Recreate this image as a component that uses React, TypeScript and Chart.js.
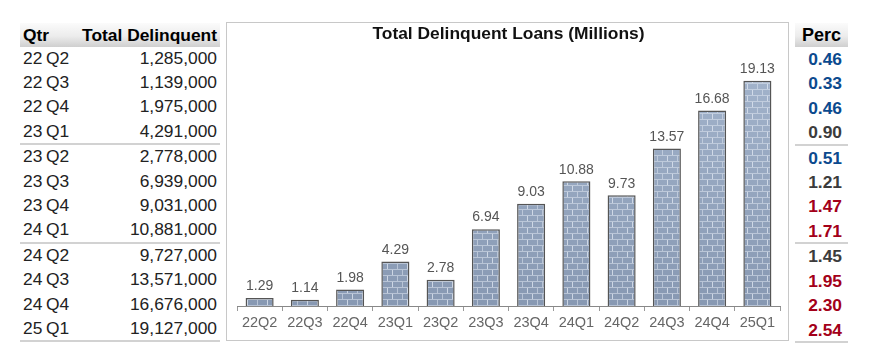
import React, { useEffect, useRef } from "react";
import { Chart, registerables } from "chart.js";

Chart.register(...registerables);

const FONT = "'Liberation Sans', Arial, Helvetica, sans-serif";

const quarters = ["22Q2", "22Q3", "22Q4", "23Q1", "23Q2", "23Q3", "23Q4", "24Q1", "24Q2", "24Q3", "24Q4", "25Q1"];
const totalDelinquent = [1285000, 1139000, 1975000, 4291000, 2778000, 6939000, 9031000, 10881000, 9727000, 13571000, 16676000, 19127000];
const loansMillions = [1.29, 1.14, 1.98, 4.29, 2.78, 6.94, 9.03, 10.88, 9.73, 13.57, 16.68, 19.13];
const percValues = ["0.46", "0.33", "0.46", "0.90", "0.51", "1.21", "1.47", "1.71", "1.45", "1.95", "2.30", "2.54"];
const percTones = ["blue", "blue", "blue", "gray", "blue", "gray", "red", "red", "gray", "red", "red", "red"];

const TONE_COLORS: Record<string, string> = { blue: "#0b4a8e", gray: "#3c3c3c", red: "#a30019" };

const ROW_H = 24.4;
const rowCenter = (i: number) => 57.7 + Math.floor(i / 4) * 98.65 + (i % 4) * ROW_H;
const sepLines = [143.3, 241.7, 340];

function makeBrickPattern(height: number): CanvasPattern | string {
  const c = document.createElement("canvas");
  const w = 20;
  c.width = w;
  c.height = height;
  const ctx = c.getContext("2d");
  if (!ctx) return "#9aabc3";
  const g = ctx.createLinearGradient(0, 40, 0, height - 30);
  g.addColorStop(0, "#a3b4cc");
  g.addColorStop(1, "#8798b2");
  ctx.fillStyle = g;
  ctx.fillRect(0, 0, w, height);
  ctx.fillStyle = "rgba(222,230,240,0.55)";
  const rowH = 6;
  for (let r = 0; r * rowH < height; r++) {
    const y = r * rowH;
    ctx.fillRect(0, y, w, 1);
    const off = r % 2 === 0 ? 0 : 5;
    for (let x = off; x < w + 10; x += 10) {
      ctx.fillRect(x % w, y + 1, 1, rowH - 1);
    }
  }
  const p = ctx.createPattern(c, "repeat");
  return p || "#9aabc3";
}

const valueLabels = {
  id: "valueLabels",
  afterDatasetsDraw(chart: any) {
    const ctx = chart.ctx;
    const meta = chart.getDatasetMeta(0);
    ctx.save();
    ctx.font = `14px ${FONT}`;
    ctx.fillStyle = "#555";
    ctx.textAlign = "center";
    ctx.textBaseline = "alphabetic";
    meta.data.forEach((bar: any, i: number) => {
      ctx.fillText(loansMillions[i].toFixed(2), bar.x, bar.y - 7.7);
    });
    ctx.restore();
  },
};

const headerBg = "linear-gradient(to bottom, #fbfbfb 0%, #ececec 55%, #cfcfcf 100%)";

export default function App() {
  const ref = useRef<HTMLCanvasElement>(null);

  useEffect(() => {
    const canvas = ref.current;
    if (!canvas) return;
    const pattern = makeBrickPattern(canvas.height);
    const chart = new Chart(canvas, {
      type: "bar",
      data: {
        labels: quarters,
        datasets: [
          {
            data: loansMillions,
            backgroundColor: pattern as any,
            borderColor: "#555",
            borderWidth: 1.5,
            barPercentage: 0.62,
            categoryPercentage: 1,
          },
        ],
      },
      options: {
        responsive: false,
        animation: false,
        layout: { padding: { left: 10, right: 8, top: 0, bottom: 5.6 } },
        plugins: {
          legend: { display: false },
          tooltip: { enabled: false },
          title: {
            display: true,
            text: "Total Delinquent Loans (Millions)",
            color: "#111",
            font: { family: FONT, size: 17.4, weight: "bold" },
            padding: { top: 0.5, bottom: 25.8 },
          },
        },
        scales: {
          x: {
            offset: true,
            grid: { display: true, drawOnChartArea: false, drawTicks: true, tickLength: 5, color: "#999", offset: true },
            border: { display: true, color: "#888", width: 1 },
            ticks: { font: { family: FONT, size: 14.5 }, color: "#666", padding: 3, maxRotation: 0, autoSkip: false },
          },
          y: { display: false, min: 0.63, max: 20 },
        },
      },
      plugins: [valueLabels],
    });
    return () => chart.destroy();
  }, []);

  const rowText = { fontFamily: FONT, fontSize: 17.4, color: "#222", position: "absolute" as const, height: ROW_H, lineHeight: `${ROW_H}px`, whiteSpace: "nowrap" as const };

  return (
    <div style={{ position: "fixed", left: 0, top: 0, width: 870, height: 360, background: "#fff", overflow: "hidden" }}>
      {/* Left table header */}
      <div style={{ position: "absolute", left: 20, top: 23, width: 200, height: 24, background: headerBg }} />
      <div style={{ ...rowText, left: 23, top: 23, height: 24, lineHeight: "24px", fontWeight: "bold", color: "#000" }}>Qtr</div>
      <div style={{ ...rowText, right: 870 - 217, top: 23, height: 24, lineHeight: "24px", fontWeight: "bold", color: "#000", textAlign: "right" }}>Total Delinquent</div>
      {quarters.map((q, i) => (
        <React.Fragment key={q}>
          <div style={{ ...rowText, left: 23, top: rowCenter(i) - ROW_H / 2, wordSpacing: -1.3 }}>{`${q.slice(0, 2)} ${q.slice(2)}`}</div>
          <div style={{ ...rowText, right: 870 - 217, top: rowCenter(i) - ROW_H / 2, textAlign: "right" }}>{totalDelinquent[i].toLocaleString("en-US")}</div>
        </React.Fragment>
      ))}
      {sepLines.map((y, k) => (
        <div key={"ls" + k} style={{ position: "absolute", left: 20, top: y, width: 200, height: 2, background: "#d2d2d2" }} />
      ))}

      {/* Chart box */}
      <div style={{ position: "absolute", left: 226, top: 22, width: 563, height: 319, border: "1px solid #c8c8c8", boxSizing: "border-box" }} />
      <canvas ref={ref} width={561} height={317} style={{ position: "absolute", left: 227, top: 23, width: 561, height: 317 }} />

      {/* Perc column */}
      <div style={{ position: "absolute", left: 795, top: 23, width: 53, height: 24, background: headerBg }} />
      <div style={{ ...rowText, left: 795, width: 53, top: 23, height: 24, lineHeight: "24px", fontSize: 18, fontWeight: "bold", color: "#000", textAlign: "center" }}>Perc</div>
      {percValues.map((p, i) => (
        <div key={"p" + i} style={{ ...rowText, right: 870 - 842, top: rowCenter(i) + 1.5 - ROW_H / 2, fontWeight: "bold", textAlign: "right", color: TONE_COLORS[percTones[i]] }}>{p}</div>
      ))}
      {sepLines.map((y, k) => (
        <div key={"rs" + k} style={{ position: "absolute", left: 795, top: y + 0.5, width: 53, height: 2, background: "#d2d2d2" }} />
      ))}
    </div>
  );
}
